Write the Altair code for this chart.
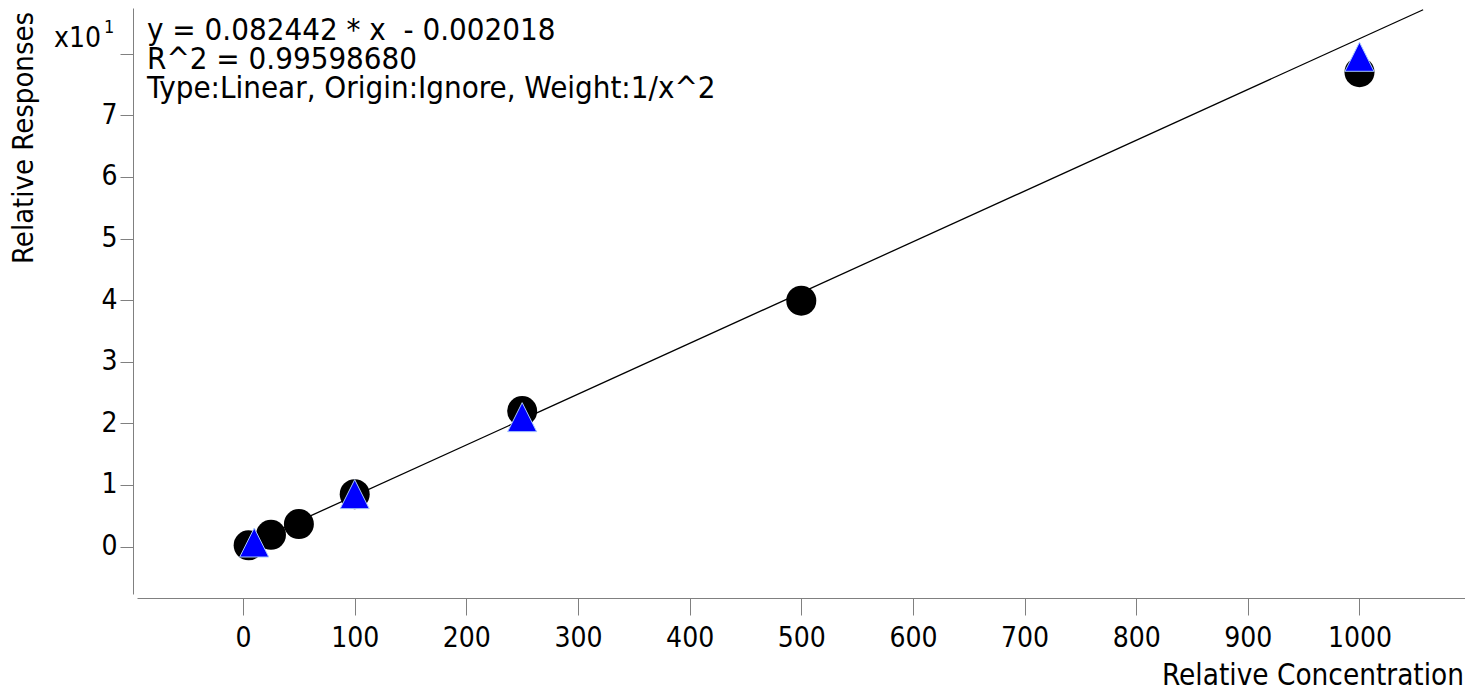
import altair as alt
import pandas as pd

FONT = "DejaVu Sans Condensed, DejaVu Sans, sans-serif"

# Calibration points (black circles)
cal_conc = [5, 25, 50, 100, 250, 500, 1000]
cal_resp = [0.2, 1.9, 3.65, 8.5, 22.0, 39.9, 77.0]
# QC points (blue triangles)
qc_conc = [10, 100, 250, 1000]
qc_resp = [0.65, 8.5, 21.0, 79.5]
# Fit line
slope = 0.082442
intercept = -0.002018
fit_conc = [5, 1057]

x_ticks = [0, 100, 200, 300, 400, 500, 600, 700, 800, 900, 1000]
y_ticks = [0, 1, 2, 3, 4, 5, 6, 7, 8]
annotation_lines = ["y = 0.082442 * x \u00a0- 0.002018", "R^2 = 0.99598680",
                    "Type:Linear, Origin:Ignore, Weight:1/x^2"]
x_title = "Relative Concentration"
y_title = "Relative Responses"

cal_df = pd.DataFrame({"conc": cal_conc, "v": [r / 10 for r in cal_resp]})
qc_df = pd.DataFrame({"conc": qc_conc, "v": [r / 10 for r in qc_resp]})
fit_df = pd.DataFrame({"conc": fit_conc, "v": [(slope * c + intercept) / 10 for c in fit_conc]})

xscale = alt.Scale(domain=[-95, 1094.5], nice=False, zero=False)
yscale = alt.Scale(domain=[-0.771, 8.742], nice=False, zero=False)

xaxis = alt.Axis(values=x_ticks, title=None, grid=False, domainColor="#808080",
                 tickColor="#808080", tickSize=17, labelFontSize=28, labelFont=FONT,
                 labelColor="black", labelPadding=9, offset=4, labelFlush=False,
                 labelOverlap=False, format="d")
yaxis = alt.Axis(values=y_ticks, title=None, grid=False, domainColor="#808080",
                 tickColor="#808080", tickSize=13, labelFontSize=28, labelFont=FONT,
                 labelColor="black", labelPadding=3, offset=4, labelFlush=False,
                 labelOverlap=False, labelExpr="datum.value == 8 ? '' : datum.label")

X = alt.X("conc:Q", scale=xscale, axis=xaxis)
Y = alt.Y("v:Q", scale=yscale, axis=yaxis)

line = alt.Chart(fit_df).mark_line(color="black", strokeWidth=1.3).encode(x=X, y=Y)
circles = alt.Chart(cal_df).mark_point(shape="circle", filled=True, size=900,
                                       color="black", opacity=1).encode(x=X, y=Y)
tris = alt.Chart(qc_df).mark_point(shape="M0,-1L1,1H-1Z", filled=True, size=841,
                                   fill="#0000ff", stroke="#a8c8ff", strokeWidth=1,
                                   opacity=1).encode(x=X, y=Y)

one = pd.DataFrame({"a": [0]})
ann = alt.Chart(one).mark_text(text=annotation_lines, align="left", baseline="alphabetic",
                               fontSize=31, font=FONT, color="black", lineHeight=29
                               ).encode(x=alt.value(10), y=alt.value(32))
x10 = alt.Chart(one).mark_text(text="x10", align="right", baseline="alphabetic",
                               fontSize=28, font=FONT, color="black"
                               ).encode(x=alt.value(-36), y=alt.value(39))
sup = alt.Chart(one).mark_text(text="1", align="left", baseline="alphabetic",
                               fontSize=18, font=FONT, color="black"
                               ).encode(x=alt.value(-33), y=alt.value(25))
xt = alt.Chart(one).mark_text(text=x_title, align="right", baseline="alphabetic",
                              fontSize=29.4, font=FONT, color="black"
                              ).encode(x=alt.value(1327), y=alt.value(677))
yt = alt.Chart(one).mark_text(text=y_title, align="left", baseline="alphabetic",
                              fontSize=29, font=FONT, color="black", angle=270
                              ).encode(x=alt.value(-104), y=alt.value(256))

chart = alt.layer(line, circles, tris, ann, x10, sup, xt, yt).properties(
    width=1328, height=586,
    autosize=alt.AutoSizeParams(type="none"),
    padding={"left": 129, "top": 0, "right": 0, "bottom": 98},
).configure_view(stroke=None)

chart.save("out.html", embed_options={"renderer": "svg", "actions": False})
